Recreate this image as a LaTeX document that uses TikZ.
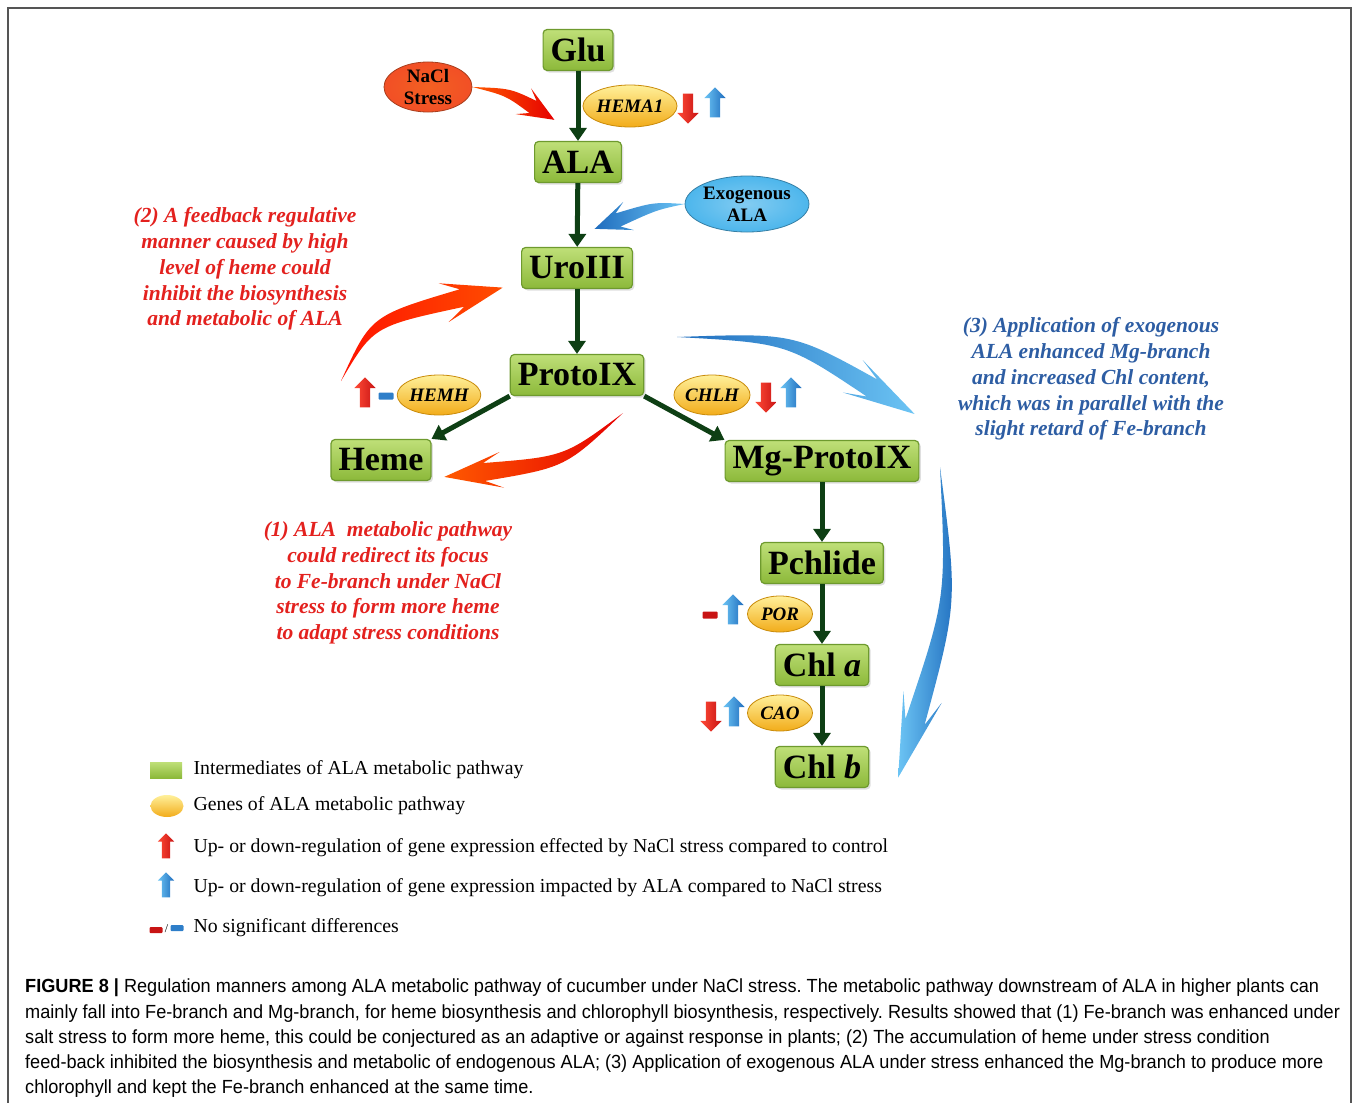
\documentclass[tikz,border=0pt]{standalone}
\usepackage{fontspec}
\setmainfont{Liberation Serif}
\newfontfamily\capfont[FakeStretch=0.955]{Liberation Sans}
\usepackage{xcolor}
\usetikzlibrary{calc}
\usetikzlibrary {arrows.meta}
\usetikzlibrary {shapes.geometric,shapes.arrows,shadows}
\definecolor{boxtop}{HTML}{BFDF78}
\definecolor{boxbot}{HTML}{8CB93A}
\definecolor{boxedge}{HTML}{6E9A2E}
\definecolor{pathgreen}{HTML}{0E3F14}
\definecolor{genetop}{HTML}{FFF09A}
\definecolor{genebot}{HTML}{F2AC1A}
\definecolor{geneedge}{HTML}{C98B0A}
\definecolor{upred}{HTML}{FF4A36}
\definecolor{upreddark}{HTML}{C81414}
\definecolor{upblue}{HTML}{6CC4F4}
\definecolor{upbluedark}{HTML}{1F6DBE}
\definecolor{notered}{HTML}{E3211E}
\definecolor{noteblue}{HTML}{2D5DA3}
\definecolor{naclfill}{HTML}{F0582A}
\definecolor{exofill}{HTML}{4DB6EC}
\definecolor{framegray}{HTML}{555555}
% curved tapering arrow: style, tail, bend, head base, half width, head half width, head length
\newcommand{\bentarrow}[7]{%
\coordinate (bk) at ($(#4)!0.45*#7pt!(#3)$);
\shade[#1] (#2) .. controls ($(#3)!0.6*#5pt!-90:(#4)$) .. ($(#4)!#5pt!90:(#3)$)
 -- ($(bk)!#6pt!90:(#3)$) -- ($(#4)!-#7pt!(#3)$) -- ($(bk)!#6pt!-90:(#3)$)
 -- ($(#4)!#5pt!-90:(#3)$) .. controls ($(#3)!0.6*#5pt!90:(#4)$) .. (#2) -- cycle;}

\begin{document}
\frenchspacing
\begin{tikzpicture}[x=1pt,y=-1pt]
%
\tikzstyle{inter}=[draw=boxedge,line width=1.2pt,rounded corners=4pt,top color=boxtop,bottom color=boxbot,
 minimum height=41pt,inner xsep=7.5pt,font=\fontsize{34}{36}\selectfont\bfseries,
 drop shadow={opacity=0.25,shadow xshift=2pt,shadow yshift=-2pt}]
\tikzstyle{gene}=[ellipse,draw=geneedge,line width=0.8pt,top color=genetop,bottom color=genebot,
 inner sep=0pt,font=\fontsize{19}{21}\selectfont\bfseries\itshape]
\tikzstyle{flow}=[draw=pathgreen,line width=5pt,-{Triangle[width=17pt,length=13pt]}]
\tikzstyle{regarrow}=[single arrow,minimum height=30pt,inner sep=5pt,single arrow head extend=5.5pt,
 single arrow tip angle=90]
\tikzstyle{nacldown}=[regarrow,shape border rotate=270,left color=upred,right color=upreddark]
\tikzstyle{naclup}=[regarrow,shape border rotate=90,left color=upred,right color=upreddark]
\tikzstyle{alaup}=[regarrow,shape border rotate=90,left color=upblue,right color=upbluedark]
\tikzstyle{nodiff}=[rectangle,minimum width=15pt,minimum height=7pt,inner sep=0pt,rounded corners=1pt]
\tikzstyle{note}=[align=center,font=\fontsize{21.5}{25.8}\selectfont\bfseries\itshape]
\tikzstyle{legend}=[anchor=west,font=\fontsize{19.8}{22}\selectfont]
%
\useasboundingbox (0,0) rectangle (1358,1103);
\draw[framegray,line width=1.2pt] (8,1103) -- (8,8) -- (1351,8) -- (1351,1103);
%
% pathway intermediates
\node[inter](glu) at (578,50){Glu};
\node[inter](ala) at (578,162){ALA};
\node[inter](uro) at (577,268){UroIII};
\node[inter](proto) at (577,375){ProtoIX};
\node[inter](heme) at (381,460){Heme};
\node[inter](mgproto) at (822,461){Mg-ProtoIX};
\node[inter](pchlide) at (822,563){Pchlide};
\node[inter](chla) at (822,665){Chl \textit{a}};
\node[inter](chlb) at (822,767){Chl \textit{b}};
%
\draw[flow] (glu) -- (ala);
\draw[flow] (ala) -- (uro);
\draw[flow] (uro) -- (proto);
\draw[flow] (proto.south west) -- (heme.north east);
\draw[flow] (proto.south east) -- (mgproto.north west);
\draw[flow] (mgproto) -- (pchlide);
\draw[flow] (pchlide) -- (chla);
\draw[flow] (chla) -- (chlb);
%
% genes
\node[gene,minimum width=84pt,minimum height=42pt](hema) at (630,106){HEMA1};
\node[gene,minimum width=82pt,minimum height=40pt](hemh) at (439,395){HEMH};
\node[gene,minimum width=76pt,minimum height=40pt](chlh) at (712,395){CHLH};
\node[gene,minimum width=65pt,minimum height=36pt](por) at (780,614){POR};
\node[gene,minimum width=65pt,minimum height=36pt](cao) at (780,713){CAO};
%
\node[nacldown](hemared) at (688,106){};
\node[alaup](hemablue) at (715,105){};
\node[naclup](hemhred) at (365,395){};
\node[nodiff,fill=upbluedark!80!upblue](hemhblue) at (386,396){};
\node[nacldown](chlhred) at (766,395){};
\node[alaup](chlhblue) at (791,395){};
\node[nodiff,fill=upreddark](porred) at (710,615){};
\node[alaup](porblue) at (733,612){};
\node[nacldown](caored) at (711,714){};
\node[alaup](caoblue) at (734,714){};
%
% treatments
\node[ellipse,draw=naclfill!70!black,line width=0.8pt,inner color=naclfill!80!orange,outer color=naclfill!90!red,
 minimum width=88pt,minimum height=50pt,inner sep=0pt,align=center,
 font=\fontsize{19}{22}\selectfont\bfseries](nacl) at (428,87){NaCl\\Stress};
\node[ellipse,draw=exofill!70!black,line width=0.8pt,inner color=exofill!70!white,outer color=exofill,
 minimum width=109pt,minimum height=56pt,inner sep=0pt,align=center,
 font=\fontsize{19}{22}\selectfont\bfseries](exoala) at (747,204){Exogenous\\ALA};
%
\coordinate(naclbend) at (508,92);
\coordinate(naclhead) at (533,107);
\coordinate(exobend) at (655,206);
\coordinate(exohead) at (618,220);
\coordinate(fbtail) at (341,381);
\coordinate(fbbend) at (372,321);
\coordinate(fbhead) at (462,298);
\coordinate(fetail) at (623,413);
\coordinate(febend) at (565,462);
\coordinate(fehead) at (484,472);
\coordinate(mgtail) at (677,337);
\coordinate(mgbend) at (790,338);
\coordinate(mghead) at (872,388);
\coordinate(chltail) at (940,467);
\coordinate(chlbend) at (952,600);
\coordinate(chlhead) at (915,722);
%
\bentarrow{left color=orange!70!red,right color=red!90!black}{nacl.east}{naclbend}{naclhead}{7}{15}{25}
\bentarrow{left color=upbluedark,right color=upblue}{exoala.west}{exobend}{exohead}{7}{15}{25}
\bentarrow{left color=red!85!orange,right color=orange!60!red}{fbtail}{fbbend}{fbhead}{9}{20}{42}
\bentarrow{left color=orange!70!red,right color=red!90!black}{fetail}{febend}{fehead}{9}{18}{40}
\bentarrow{left color=upbluedark,right color=upblue}{mgtail}{mgbend}{mghead}{10}{19}{50}
\bentarrow{left color=upblue,right color=upbluedark}{chltail}{chlbend}{chlhead}{10}{20}{58}
%
% notes
\node[note,text=notered](fbnote) at (245,269){(2) A feedback regulative\\manner caused by high\\level of heme could\\inhibit the biosynthesis\\and metabolic of ALA};
\node[note,text=notered](fenote) at (388,583){(1) ALA\ \ metabolic pathway\\could redirect its focus\\to Fe-branch under NaCl\\stress to form more heme\\to adapt stress conditions};
\node[note,text=noteblue](mgnote) at (1091,379){(3) Application of exogenous\\ALA enhanced Mg-branch\\and increased Chl content,\\which was in parallel with the\\slight retard of Fe-branch};
%
% legend
\node[rectangle,top color=boxtop,bottom color=boxbot,minimum width=32pt,minimum height=16pt,inner sep=0pt](keybox) at (166,770){};
\node[ellipse,top color=genetop,bottom color=genebot,minimum width=33pt,minimum height=22pt,inner sep=0pt](keygene) at (167,806){};
\node[naclup,minimum height=25pt,inner sep=4pt,single arrow head extend=4pt](keyred) at (166,848){};
\node[alaup,minimum height=25pt,inner sep=4pt,single arrow head extend=4pt](keyblue) at (166,887){};
\node[nodiff,minimum width=13pt,minimum height=6pt,fill=upreddark](keyredbar) at (156,930){};
\node[nodiff,minimum width=13pt,minimum height=6pt,fill=upbluedark!80!upblue](keybluebar) at (177,928){};
\node[font=\fontsize{12}{12}\selectfont,inner sep=0pt](keyslash) at (166.5,929){/};
%
\node[legend](keyboxtext) at (190,770){Intermediates of ALA metabolic pathway};
\node[legend](keygenetext) at (190,806){Genes of ALA metabolic pathway};
\node[legend](keyredtext) at (190,848){Up- or down-regulation of gene expression effected by NaCl stress compared to control};
\node[legend](keybluetext) at (190,888){Up- or down-regulation of gene expression impacted by ALA compared to NaCl stress};
\node[legend](keybartext) at (190,928){No significant differences};
%
% caption
\tikzstyle{capline}=[anchor=base west,inner sep=0pt,font=\capfont\fontsize{19}{22}\selectfont]
\node[capline](cap1) at (25,992){\textbf{FIGURE 8 |} Regulation manners among ALA metabolic pathway of cucumber under NaCl stress. The metabolic pathway downstream of ALA in higher plants can};
\node[capline](cap2) at (25,1018){mainly fall into Fe-branch and Mg-branch, for heme biosynthesis and chlorophyll biosynthesis, respectively. Results showed that (1) Fe-branch was enhanced under};
\node[capline](cap3) at (25,1043){salt stress to form more heme, this could be conjectured as an adaptive or against response in plants; (2) The accumulation of heme under stress condition};
\node[capline](cap4) at (25,1068){feed-back inhibited the biosynthesis and metabolic of endogenous ALA; (3) Application of exogenous ALA under stress enhanced the Mg-branch to produce more};
\node[capline](cap5) at (25,1093){chlorophyll and kept the Fe-branch enhanced at the same time.};
\end{tikzpicture}
\end{document}
